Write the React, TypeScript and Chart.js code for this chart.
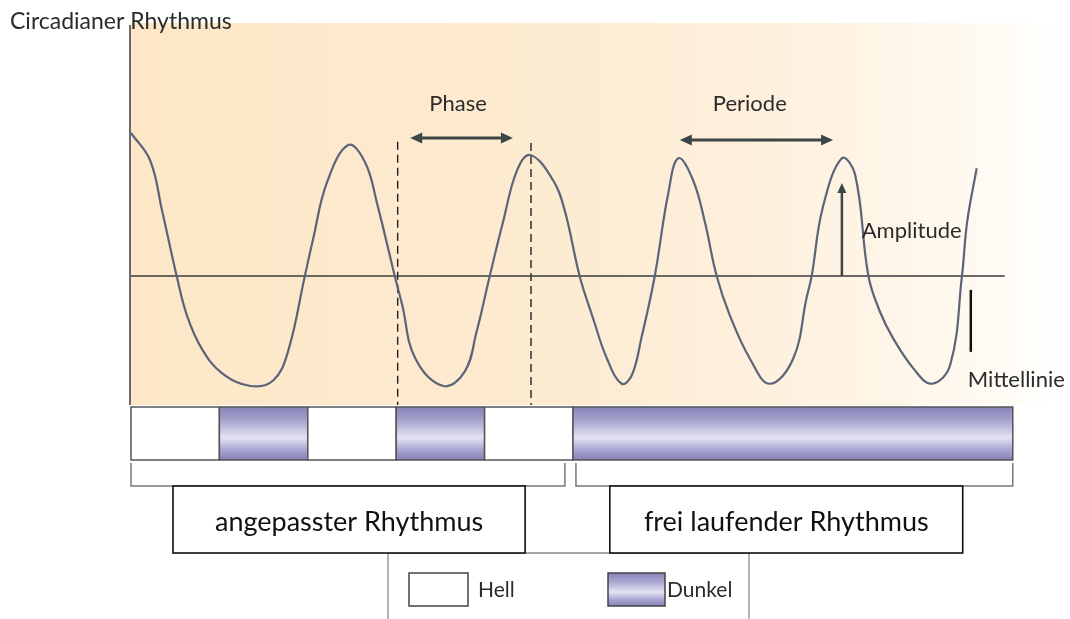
import React, { useEffect, useRef } from "react";
import { Chart, registerables } from "chart.js";

Chart.register(...registerables);

// Time axis in hours (0..120), level = deviation from the midline
const waveHours = [0, 2.6, 4.2, 6.2, 7.6, 9.6, 12.3, 16.2, 19.3, 21.3, 23.6, 24.7, 26.6, 29.5, 31.8, 33.4, 35.8, 36.8, 38.6, 42.4, 45.3, 46.9, 48.7, 50.5, 52.4, 54.2, 57.3, 58.9, 60.9, 62.7, 64.6, 66.6, 68.0, 69.3, 71.1, 72.9, 74.3, 76.3, 77.9, 79.5, 81.3, 84.0, 86.7, 89.9, 91.7, 92.4, 93.9, 96.5, 98.3, 100.1, 101.7, 103.4, 106.2, 108.7, 111.2, 112.8, 113.5, 114.8];
const waveLevel = [1.3, 1.05, 0.6, 0, -0.36, -0.66, -0.88, -1.0, -0.95, -0.69, 0, 0.33, 0.85, 1.19, 1.03, 0.66, 0, -0.26, -0.75, -1.0, -0.87, -0.51, 0, 0.49, 0.96, 1.1, 0.87, 0.59, 0, -0.38, -0.75, -0.98, -0.9, -0.56, 0, 0.74, 1.07, 0.87, 0.49, 0, -0.36, -0.75, -0.98, -0.75, -0.2, 0, 0.62, 1.07, 0.92, 0, -0.33, -0.56, -0.84, -0.98, -0.81, 0, 0.49, 0.98];

const midlineRange = [0, 118.6];
const dashHours = [36.2, 54.3];
const dashTop = [1.22, 1.21];

const phaseStart = [0, 12, 24, 36, 48, 60];
const phaseEnd = [12, 24, 36, 48, 60, 119.7];
const phaseType = ["Hell", "Dunkel", "Hell", "Dunkel", "Hell", "Dunkel"];

const bracketStart = [0, 60.4];
const bracketEnd = [58.9, 119.7];
const boxStart = [5.7, 65.0];
const boxEnd = [53.5, 112.9];
const boxLabels = ["angepasster Rhythmus", "frei laufender Rhythmus"];

const phaseArrow = [37.9, 51.85, 1.255];
const periodArrow = [74.5, 95.3, 1.236];
const amplitudeArrow = [96.5, 0, 0.845];
const midlineMarker = [114.0, -0.127, -0.69];

const labelTexts = ["Phase", "Periode", "Amplitude", "Mittellinie"];
const labelHours = [44.4, 84.0, 99.2, 113.6];
const labelLevel = [1.5, 1.5, 0.345, -1.01];

const legendLabels = ["Hell", "Dunkel"];
const titleText = "Circadianer Rhythmus";

const X_MAX = 120;
const Y_MIN = -1.173;
const Y_MAX = 2.3;

const FONT = "Lato, 'Open Sans', sans-serif";

function purpleGradient(ctx: CanvasRenderingContext2D, top: number, bottom: number) {
  const g = ctx.createLinearGradient(0, top, 0, bottom);
  g.addColorStop(0, "#8783b8");
  g.addColorStop(0.25, "#a6a3cf");
  g.addColorStop(0.58, "#e4e3f3");
  g.addColorStop(0.8, "#aaa7d2");
  g.addColorStop(1, "#8581b5");
  return g;
}

function arrowHead(ctx: CanvasRenderingContext2D, x: number, y: number, dx: number, dy: number, len: number, half: number) {
  const bx = x - dx * len;
  const by = y - dy * len;
  const px = -dy;
  const py = dx;
  ctx.beginPath();
  ctx.moveTo(x, y);
  ctx.lineTo(bx + px * half, by + py * half);
  ctx.lineTo(bx - px * half, by - py * half);
  ctx.closePath();
  ctx.fill();
}

export default function App() {
  const ref = useRef<HTMLCanvasElement>(null);

  useEffect(() => {
    document.body.style.margin = "0";
    const canvas = ref.current;
    if (!canvas) return;

    const diagram = {
      id: "diagram",
      beforeDraw(chart: any) {
        const ctx: CanvasRenderingContext2D = chart.ctx;
        const a = chart.chartArea;
        ctx.save();
        ctx.fillStyle = "#ffffff";
        ctx.fillRect(0, 0, chart.width, chart.height);
        const g = ctx.createLinearGradient(a.left, 0, a.right + 40, 0);
        g.addColorStop(0, "#fde7c7");
        g.addColorStop(0.45, "#fdebd1");
        g.addColorStop(0.72, "#fef1df");
        g.addColorStop(0.9, "#fff9ef");
        g.addColorStop(1, "#ffffff");
        ctx.fillStyle = g;
        ctx.fillRect(a.left, a.top, a.right + 40 - a.left, a.bottom - a.top);
        ctx.restore();
      },
      afterDraw(chart: any) {
        const ctx: CanvasRenderingContext2D = chart.ctx;
        const a = chart.chartArea;
        const xs = chart.scales.x;
        const ys = chart.scales.y;
        const X = (v: number) => xs.getPixelForValue(v);
        const Y = (v: number) => ys.getPixelForValue(v);
        ctx.save();

        // vertical axis
        ctx.strokeStyle = "#6a6a6a";
        ctx.lineWidth = 2;
        ctx.beginPath();
        ctx.moveTo(a.left - 1, a.top + 2);
        ctx.lineTo(a.left - 1, a.bottom);
        ctx.stroke();

        // title
        ctx.fillStyle = "#2b2b2b";
        ctx.font = `23px ${FONT}`;
        ctx.textAlign = "left";
        ctx.textBaseline = "alphabetic";
        ctx.fillText(titleText, 10, 29);

        // double arrows
        ctx.strokeStyle = "#3c4646";
        ctx.fillStyle = "#3c4646";
        ctx.lineWidth = 3;
        for (const arr of [phaseArrow, periodArrow]) {
          const x1 = X(arr[0]);
          const x2 = X(arr[1]);
          const y = Y(arr[2]);
          ctx.beginPath();
          ctx.moveTo(x1 + 6, y);
          ctx.lineTo(x2 - 6, y);
          ctx.stroke();
          arrowHead(ctx, x1, y, -1, 0, 12, 5.5);
          arrowHead(ctx, x2, y, 1, 0, 12, 5.5);
        }

        // amplitude arrow
        {
          const x = X(amplitudeArrow[0]);
          const y0 = Y(amplitudeArrow[1]);
          const y1 = Y(amplitudeArrow[2]);
          ctx.lineWidth = 2.5;
          ctx.beginPath();
          ctx.moveTo(x, y0);
          ctx.lineTo(x, y1 + 8);
          ctx.stroke();
          arrowHead(ctx, x, y1, 0, -1, 10, 4.5);
        }

        // midline marker bar
        {
          const x = X(midlineMarker[0]);
          ctx.strokeStyle = "#111";
          ctx.lineWidth = 2.5;
          ctx.beginPath();
          ctx.moveTo(x, Y(midlineMarker[1]));
          ctx.lineTo(x, Y(midlineMarker[2]));
          ctx.stroke();
        }

        // labels
        ctx.fillStyle = "#2b2b2b";
        ctx.font = `22px ${FONT}`;
        labelTexts.forEach((t, i) => {
          ctx.textAlign = i < 2 ? "center" : "left";
          ctx.fillText(t, X(labelHours[i]), Y(labelLevel[i]));
        });

        // light / dark bar
        const barTop = a.bottom + 2;
        const barBottom = a.bottom + 55;
        ctx.lineWidth = 1.5;
        ctx.strokeStyle = "#555";
        phaseType.forEach((t, i) => {
          const x1 = X(phaseStart[i]);
          const x2 = X(phaseEnd[i]);
          ctx.fillStyle = t === "Hell" ? "#ffffff" : purpleGradient(ctx, barTop, barBottom);
          ctx.fillRect(x1, barTop, x2 - x1, barBottom - barTop);
          ctx.strokeRect(x1, barTop, x2 - x1, barBottom - barTop);
        });

        // brackets
        const brTop = a.bottom + 58;
        const brBottom = a.bottom + 81;
        ctx.strokeStyle = "#777";
        ctx.lineWidth = 1.5;
        bracketStart.forEach((s, i) => {
          const x1 = X(s);
          const x2 = X(bracketEnd[i]);
          ctx.beginPath();
          ctx.moveTo(x1, brTop);
          ctx.lineTo(x1, brBottom);
          ctx.lineTo(x2, brBottom);
          ctx.lineTo(x2, brTop);
          ctx.stroke();
        });

        // legend box
        const lgTop = a.bottom + 148;
        ctx.strokeStyle = "#8a8a8a";
        ctx.lineWidth = 1.3;
        ctx.beginPath();
        ctx.moveTo(388, chart.height);
        ctx.lineTo(388, lgTop);
        ctx.lineTo(749, lgTop);
        ctx.lineTo(749, chart.height);
        ctx.stroke();

        // text boxes
        ctx.strokeStyle = "#111";
        ctx.lineWidth = 1.6;
        ctx.font = `27px ${FONT}`;
        ctx.textAlign = "center";
        boxLabels.forEach((t, i) => {
          const x1 = X(boxStart[i]);
          const x2 = X(boxEnd[i]);
          ctx.fillStyle = "#ffffff";
          ctx.fillRect(x1, brBottom, x2 - x1, lgTop - brBottom);
          ctx.strokeRect(x1, brBottom, x2 - x1, lgTop - brBottom);
          ctx.fillStyle = "#111";
          ctx.fillText(t, (x1 + x2) / 2, brBottom + 45);
        });

        // legend entries
        const swTop = lgTop + 20;
        const swH = 33;
        const swX = [409, 608];
        const swW = [59, 57];
        ctx.font = `21px ${FONT}`;
        ctx.textAlign = "left";
        legendLabels.forEach((t, i) => {
          ctx.fillStyle = i === 0 ? "#ffffff" : purpleGradient(ctx, swTop, swTop + swH);
          ctx.fillRect(swX[i], swTop, swW[i], swH);
          ctx.strokeStyle = "#444";
          ctx.lineWidth = 1.5;
          ctx.strokeRect(swX[i], swTop, swW[i], swH);
          ctx.fillStyle = "#2b2b2b";
          ctx.fillText(t, swX[i] + swW[i] + (i === 0 ? 10 : 2), swTop + 24);
        });

        ctx.restore();
      },
    };

    const chart = new Chart(canvas, {
      type: "line",
      data: {
        datasets: [
          {
            data: waveHours.map((h, i) => ({ x: h, y: waveLevel[i] })),
            borderColor: "#5c6479",
            borderWidth: 2.2,
            pointRadius: 0,
            tension: 0.4,
            fill: false,
          },
          {
            data: [
              { x: midlineRange[0], y: 0 },
              { x: midlineRange[1], y: 0 },
            ],
            borderColor: "#3a3a3a",
            borderWidth: 1.3,
            pointRadius: 0,
          },
          ...dashHours.map((h, i) => ({
            data: [
              { x: h, y: dashTop[i] },
              { x: h, y: Y_MIN },
            ],
            borderColor: "#222",
            borderWidth: 1.4,
            borderDash: [8, 5],
            pointRadius: 0,
          })),
        ],
      },
      options: {
        animation: false,
        responsive: false,
        layout: { padding: { left: 131, right: 55, top: 23, bottom: 214 } },
        scales: {
          x: { type: "linear", min: 0, max: X_MAX, display: false },
          y: { type: "linear", min: Y_MIN, max: Y_MAX, display: false },
        },
        plugins: { legend: { display: false }, tooltip: { enabled: false } },
        events: [],
      },
      plugins: [diagram],
    } as any);

    return () => chart.destroy();
  }, []);

  return (
    <div style={{ width: 1070, height: 619 }}>
      <canvas ref={ref} width={1070} height={619} style={{ display: "block" }} />
    </div>
  );
}
